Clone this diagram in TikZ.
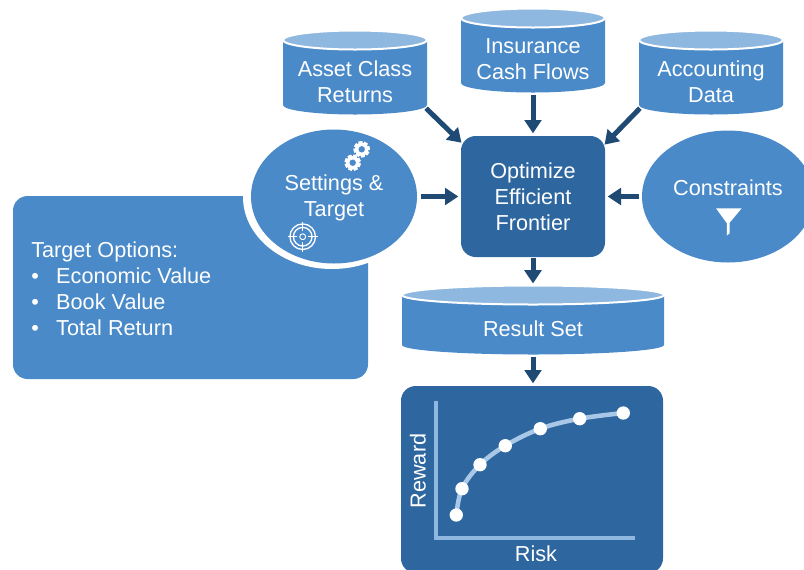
\documentclass[tikz,border=0pt]{standalone}
\usepackage{fontspec}
\setmainfont{Liberation Sans}
\usetikzlibrary{arrows.meta,shapes.geometric,calc}
\definecolor{midblue}{HTML}{4A8AC8}
\definecolor{darkblue}{HTML}{2E679F}
\definecolor{lightblue}{HTML}{8FB8E0}
\definecolor{curveblue}{HTML}{A9C8E8}
\definecolor{arrowblue}{HTML}{1F4A74}
\tikzset{
  lbl/.style={text=white,align=center,inner sep=0pt,font=\fontsize{16.25}{19.5}\selectfont},
  flow/.style={draw=arrowblue,line width=3.75pt,-{Triangle[length=10pt,width=12.5pt]}},
  hull/.style={inner sep=0pt,outer sep=0pt},
  oval/.style={ellipse,fill=midblue,inner sep=0pt,outer sep=0pt},
  panel/.style={rectangle,fill=darkblue,rounded corners=11pt,inner sep=0pt,outer sep=0pt},
  axisline/.style={draw=lightblue,line width=3pt},
  dot/.style={circle,fill=white,inner sep=0pt,outer sep=0pt,minimum size=10pt},
}
% name, left, right, side top y, side bottom y, half-height of ellipse
\newcommand{\cylshape}[6]{%
  \fill[midblue] (#2,#4) -- (#2,#5) arc[start angle=180,end angle=0,x radius={(#3-#2)/2},y radius=#6] -- (#3,#4) -- cycle;
  \filldraw[fill=lightblue,draw=white,line width=1.5pt] ({(#2+#3)/2},#4) ellipse [x radius={(#3-#2)/2},y radius=#6];
  \node[hull,minimum width={(#3-#2)*0.75pt},minimum height={(#5+#6-#4+#6)*0.75pt}] (#1) at ({(#2+#3)/2},{(#4-#6+#5+#6)/2}) {};
}
\newcommand{\gearicon}[2]{%
  \foreach \a in {0,45,...,315}{\fill[white,rotate around={\a+#2:(#1)}] ($(#1)+(-1.9,-8)$) rectangle ($(#1)+(1.9,8)$);}
  \fill[white] (#1) circle[radius=5pt];
  \fill[midblue] (#1) circle[radius=2.4pt];
}
\begin{document}
\begin{tikzpicture}[x=0.75pt,y=-0.75pt]
\useasboundingbox (0,0) rectangle (804,569);
\clip (0,0) rectangle (804,569);
% options panel
\node[rectangle,fill=midblue,rounded corners=11pt,inner sep=0pt,outer sep=0pt,minimum width=266.25pt,minimum height=137.25pt] (options) at (190.5,287.5) {};
\fill[white] (332,197) ellipse [x radius=89,y radius=72];
\node[lbl,anchor=north west,align=left] (optionstext) at (31,242) {Target Options:\\\makebox[18.75pt][l]{•}Economic Value\\\makebox[18.75pt][l]{•}Book Value\\\makebox[18.75pt][l]{•}Total Return};
% cylinders
\cylshape{asset}{283}{427}{40}{105}{9.5}
\cylshape{insurance}{461}{605}{18}{83}{9.5}
\cylshape{accounting}{639}{783}{40}{105}{9.5}
\cylshape{result}{402}{664}{295}{345}{9.5}
\node[lbl] (assettext) at (355,81.5) {Asset Class\\Returns};
\node[lbl] (insurancetext) at (533,59.5) {Insurance\\Cash Flows};
\node[lbl] (accountingtext) at (711,81.5) {Accounting\\Data};
\node[lbl] (resulttext) at (533,328.5) {Result Set};
% optimizer
\node[panel,minimum width=108pt,minimum height=90.75pt] (opt) at (533,196.5) {};
\node[lbl] (opttext) at (533,197) {Optimize\\Efficient\\Frontier};
% ovals
\node[oval,minimum width=124.5pt,minimum height=100.5pt] (settings) at (334,196.5) {};
\node[lbl] (settingstext) at (334,197.5) {Settings \&\\Target};
\node[oval,minimum width=129pt,minimum height=99pt] (constraints) at (728,196.5) {};
\node[lbl] (constraintstext) at (728,187.5) {Constraints};
% gears
\gearicon{361.7,149.3}{10}
\gearicon{352.7,162.7}{25}
% target icon
\draw[white,line width=1pt] (302.7,236.7) circle[radius=9.6pt];
\draw[white,line width=1pt] (302.7,236.7) circle[radius=7pt];
\draw[white,line width=0.7pt] (302.7,236.7) circle[radius=2.2pt];
\draw[white,line width=1pt] (287.5,236.7) -- (297,236.7) (308.4,236.7) -- (317.9,236.7) (302.7,221.5) -- (302.7,231) (302.7,242.4) -- (302.7,251.9);
% funnel
\fill[white] (716,208.3) -- (741.7,208.3) -- (729.6,222.7) -- (729.6,233.3) -- (726.9,235.5) -- (726.9,223.3) -- cycle;
% chart
\node[panel,minimum width=196.5pt,minimum height=140.25pt] (chart) at (532,479.5) {};
\coordinate (origin) at (436,538);
\coordinate (ytop) at (436,401);
\coordinate (xend) at (635,538);
\draw[axisline,line cap=butt] (ytop) -- (origin) -- (xend);
\coordinate (c1) at (456.3,515);
\coordinate (c2) at (462,488.7);
\coordinate (c3) at (480,464.7);
\coordinate (c4) at (505.3,445.7);
\coordinate (c5) at (540.3,428.7);
\coordinate (c6) at (579.7,418.7);
\coordinate (c7) at (623.3,413);
\draw[curveblue,line width=3.4pt] plot[smooth,tension=0.6] coordinates {(c1) (c2) (c3) (c4) (c5) (c6) (c7)};
\foreach \i in {1,...,7}{\node[dot] (p\i) at (c\i) {};}
\node[lbl] (risk) at (536,553.5) {Risk};
\node[lbl,rotate=90] (reward) at (418,471) {Reward};
% connectors
\draw[flow,shorten <=-1pt,shorten >=-0.5pt] (asset.-27.2) -- (opt.143.6);
\draw[flow,shorten <=-1pt,shorten >=-0.5pt] (accounting.207.2) -- (opt.36.4);
\draw[flow,shorten <=1.5pt,shorten >=2pt] (insurance.south) -- (opt.north);
\draw[flow,shorten <=3pt,shorten >=2pt] (settings.east) -- (opt.west);
\draw[flow,shorten <=2pt,shorten >=2pt] (constraints.west) -- (opt.east);
\draw[flow,shorten <=1pt,shorten >=1.5pt] (opt.south) -- (result.north);
\draw[flow,shorten <=1.5pt,shorten >=2pt] (result.south) -- (result.south |- chart.north);
\end{tikzpicture}
\end{document}
